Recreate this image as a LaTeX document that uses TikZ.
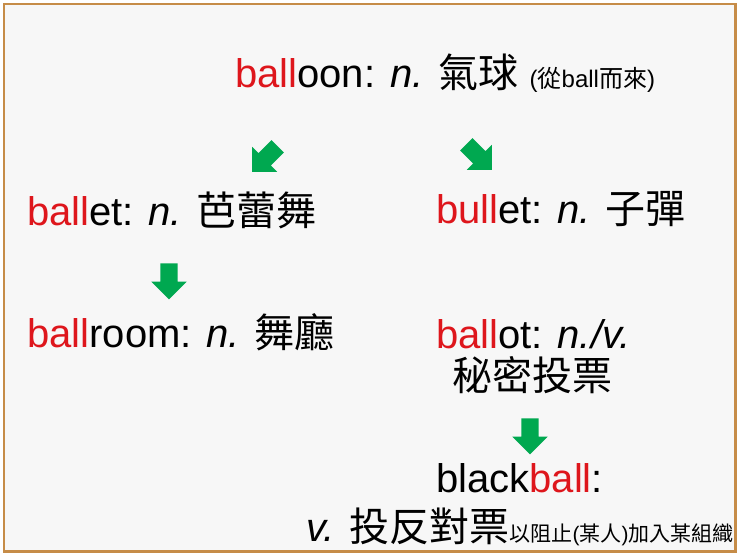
\documentclass[tikz,border=0pt]{standalone}
\usepackage{fontspec}
\setmainfont{Liberation Sans}
\newfontfamily\cjk{Noto Sans CJK TC}
\usetikzlibrary{shapes.arrows}
\usetikzlibrary{positioning}

\definecolor{ballred}{RGB}{222,22,28}
\definecolor{arrowgreen}{RGB}{0,168,80}
\definecolor{framebrown}{RGB}{198,140,72}
\definecolor{paper}{RGB}{247,247,247}
\newcommand{\hl}[1]{\textcolor{ballred}{#1}}
\newcommand{\wordsize}{\fontsize{40}{48}\selectfont}

\begin{document}
\begin{tikzpicture}[x=1pt, y=-1pt,
  word/.style={anchor=base west, inner sep=0pt, font=\wordsize},
  small/.style={anchor=base west, inner sep=0pt},
  greenarrow/.style={single arrow, fill=arrowgreen, draw=none, inner sep=8.5pt,
    minimum height=36pt, single arrow head extend=9pt}]

\fill[white] (0,0) rectangle (740,555);
\useasboundingbox (0,0) rectangle (740,555);
\fill[paper] (4,4) rectangle (735.5,551.5);
\draw[framebrown, line width=2.5pt] (4,4) rectangle (735.5,551.5);

% words
\node (balloon) [word] at (235,87) {\hl{ball}oon: \textit{n.} {\cjk 氣球}};
\node (balloonnote) [small, font=\fontsize{24}{28}\selectfont, right=11pt of balloon.base east, anchor=base west] {({\cjk 從}ball{\cjk 而來})};
\node (ballet) [word] at (27,225) {\hl{ball}et: \textit{n.} {\cjk 芭蕾舞}};
\node (bullet) [word] at (436,223) {\hl{bull}et: \textit{n.} {\cjk 子彈}};
\node (ballroom) [word] at (27,347) {\hl{ball}room: \textit{n.} {\cjk 舞廳}};
\node (ballot) [word] at (436,348) {\hl{ball}ot: \textit{n./v.}};
\node (secret) [word] at (452,390) {\cjk 秘密投票};
\node (blackball) [word] at (436,492) {black\hl{ball}:};
\node (veto) [word] at (306,541) {\textit{v.} {\cjk 投反對票}};
\node (vetonote) [small, font=\fontsize{21}{24}\selectfont, right=0pt of veto.base east, anchor=base west] {{\cjk 以阻止}({\cjk 某人}){\cjk 加入某組織}};

% arrows
\node (a1) [greenarrow, rotate=-135] at (268,156) {};
\node (a2) [greenarrow, rotate=-45] at (476,154) {};
\node (a3) [greenarrow, rotate=-90] at (169,277) {};
\node (a4) [greenarrow, rotate=-90] at (530,432) {};
\end{tikzpicture}
\end{document}
